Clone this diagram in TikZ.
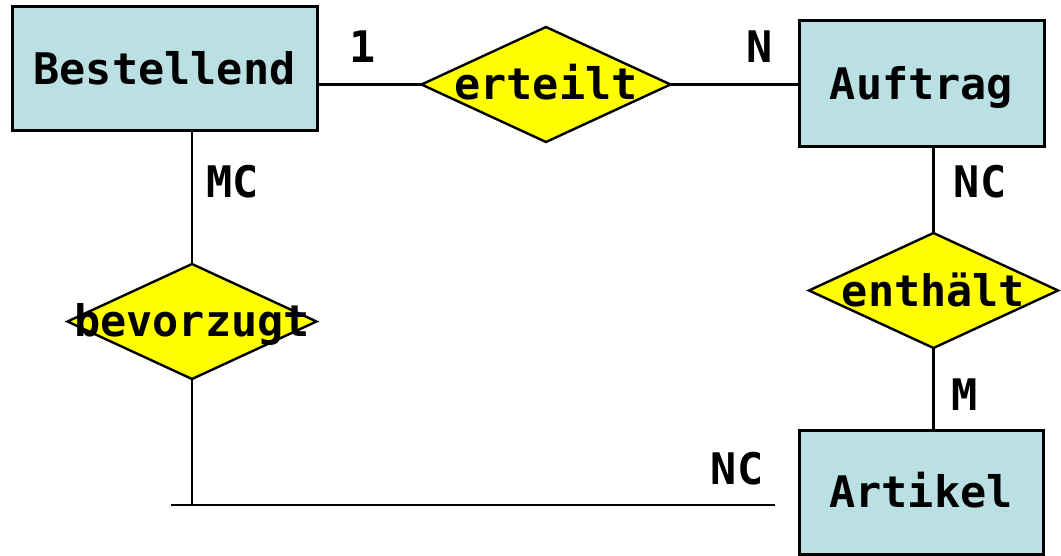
\documentclass[tikz,border=0pt]{standalone}
\usepackage{fontspec}
\setmainfont{DejaVu Sans Mono}
\usetikzlibrary{shapes.geometric}
\definecolor{entityfill}{RGB}{186,224,227}
\definecolor{relfill}{RGB}{255,255,0}
\begin{document}
\begin{tikzpicture}[x=1pt,y=-1pt,
  every node/.style={font=\fontsize{43.5}{50}\selectfont\bfseries,
    text height=31pt,text depth=0pt,inner sep=0pt,outer sep=0pt},
  entity/.style={draw,line width=3pt,fill=entityfill,rectangle},
  relation/.style={draw,line width=2.4pt,fill=relfill,diamond,
    minimum width=249pt,minimum height=115pt},
  conn/.style={line width=2.4pt},
  card/.style={}]
\useasboundingbox (0,0) rectangle (1061,556);
% entities
\node[entity,minimum width=305pt,minimum height=124pt] (bestellend) at (164.5,69) {Bestellend};
\node[entity,minimum width=245pt,minimum height=126pt] (auftrag) at (921.5,84) {Auftrag};
\node[entity,minimum width=244pt,minimum height=124pt] (artikel) at (921,492) {Artikel};
% relationships
\node[relation] (erteilt) at (546,84.5) {};
\node[relation] (bevorzugt) at (192,321.5) {};
\node[relation] (enthaelt) at (933.5,290.5) {};
% free ends of the open connector below
\coordinate (bvend) at (192,505);
\coordinate (lineL) at (171,505);
\coordinate (lineR) at (775,505);
% connectors
\draw[conn] (erteilt.west -| bestellend.east) -- (erteilt.west);
\draw[conn] (erteilt.east) -- (erteilt.east -| auftrag.west);
\draw[conn] (bevorzugt.north |- bestellend.south) -- (bevorzugt.north);
\draw[conn] (bevorzugt.south) -- (bvend);
\draw[conn] (lineL) -- (lineR);
\draw[conn] (enthaelt.north |- auftrag.south) -- (enthaelt.north);
\draw[conn] (enthaelt.south) -- (enthaelt.south |- artikel.north);
% relationship names
\node (erteiltText) at (erteilt.center) {erteilt};
\node (bevorzugtText) at (bevorzugt.center) {bevorzugt};
\node (enthaeltText) at (enthaelt.center) {enthält};
% cardinalities
\node[card] (c1) at (363,47.5) {1};
\node[card] (cN) at (760,47.5) {N};
\node[card] (cMC) at (233,182.5) {MC};
\node[card] (cNCa) at (980,182.5) {NC};
\node[card] (cM) at (965,395) {M};
\node[card] (cNCb) at (737,469) {NC};
\end{tikzpicture}
\end{document}
